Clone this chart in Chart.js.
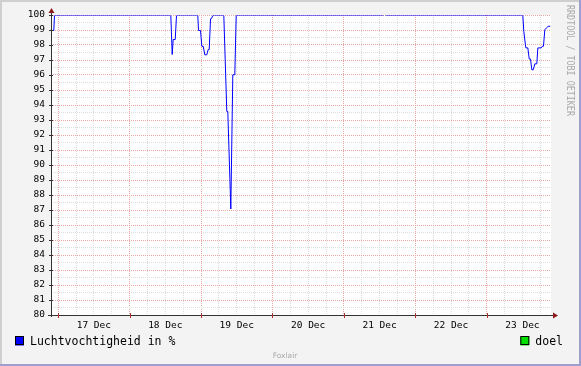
<!DOCTYPE html>
<html lang="en">
<head>
<meta charset="UTF-8" />
<title>Luchtvochtigheid</title>
<script src="https://cdn.jsdelivr.net/npm/chart.js"></script>
<style>
  html, body { margin: 0; padding: 0; background: #f3f3f3; }
  canvas { display: block; }
</style>
</head>
<body>
<canvas id="humChart" width="581" height="366"></canvas>
<script>
// time in hours since 17 Dec 00:00, humidity in %
const hours = [
  -2.4, -1.63, -1.39,
  37.69, 38.16, 38.49, 39.17, 39.6,
  46.76, 47.0, 47.67, 48.1, 48.57, 49.11, 49.78, 50.25, 50.59, 51.03, 51.36, 51.8,
  55.5, 56.5, 56.84, 57.85, 58.52, 59.19, 59.66,
  109.16, 109.5, 109.83,
  155.97, 156.3, 156.97, 157.65, 158.12, 158.55, 158.99, 159.46, 160.0, 160.67,
  161.01, 162.15, 162.49, 162.9, 163.36, 163.93, 164.5, 165.17
];
const humidity = [
  99, 99, 100,
  100, 97.4, 98.4, 98.4, 100,
  100, 99, 99, 97.95, 97.95, 97.38, 97.38, 97.73, 97.73, 99.78, 99.8, 100,
  100, 93.6, 93.6, 87.1, 96.05, 96.05, 100,
  100, null, 100,
  100, 98.93, 97.84, 97.84, 97.1, 97.1, 96.38, 96.38, 96.78, 96.78,
  97.84, 97.84, 97.95, 97.95, 99.05, 99.18, 99.28, 99.28
];
const dayLabels = ["17 Dec", "18 Dec", "19 Dec", "20 Dec", "21 Dec", "22 Dec", "23 Dec"];
const seriesNames = ["Luchtvochtigheid in %", "doel"];
const seriesColors = ["#0000ff", "#00e000"];

const GRID = "#dcdcdc";
const MGRID = "#eba5a5";
const MONO = "'DejaVu Sans Mono', monospace";

const points = hours.map((h, i) => ({ x: h, y: humidity[i] }));

const rrdLook = {
  id: "rrdLook",
  beforeDraw(chart) {
    const { ctx, chartArea: a, width, height } = chart;
    ctx.save();
    ctx.fillStyle = "#f3f3f3";
    ctx.fillRect(0, 0, width, height);
    // shaded frame
    ctx.fillStyle = "#cfcfcf";
    ctx.fillRect(0, 0, width, 2);
    ctx.fillRect(0, 0, 2, height);
    ctx.fillStyle = "#9e9ecf";
    ctx.fillRect(width - 2, 0, 2, height);
    ctx.fillRect(0, height - 2, width, 2);
    ctx.fillStyle = "#ffffff";
    ctx.fillRect(a.left, a.top, a.right - a.left, a.bottom - a.top);
    ctx.restore();
  },
  // shift the line half a pixel so 1px strokes land on whole pixels
  beforeDatasetsDraw(chart) {
    chart.ctx.save();
    chart.ctx.translate(0.5, 0.5);
  },
  afterDatasetsDraw(chart) {
    chart.ctx.restore();
  },
  afterDraw(chart) {
    const { ctx, chartArea: a, width } = chart;
    const xs = chart.scales.x, ys = chart.scales.y;
    ctx.save();
    // axes
    ctx.strokeStyle = "#333";
    ctx.lineWidth = 1;
    ctx.beginPath();
    ctx.moveTo(a.left + 0.5, a.bottom + 2);
    ctx.lineTo(a.left + 0.5, a.top - 3);
    ctx.moveTo(a.left - 3, a.bottom + 0.5);
    ctx.lineTo(a.right + 3, a.bottom + 0.5);
    ctx.stroke();
    // tick marks
    for (let v = 80; v <= 100; v++) {
      const y = Math.round(ys.getPixelForValue(v)) + 0.5;
      ctx.beginPath();
      ctx.moveTo(a.left - 2, y);
      ctx.lineTo(a.left + 2, y);
      ctx.stroke();
    }
    ctx.strokeStyle = "#b03030";
    for (let h = 0; h <= 162; h += 24) {
      const x = Math.round(xs.getPixelForValue(h)) + 0.5;
      ctx.beginPath();
      ctx.moveTo(x, a.bottom - 2);
      ctx.lineTo(x, a.bottom + 3);
      ctx.stroke();
    }
    // arrows
    ctx.fillStyle = "#8e1a1a";
    ctx.beginPath();
    ctx.moveTo(a.left + 0.5, a.top - 7);
    ctx.lineTo(a.left - 2.5, a.top - 2);
    ctx.lineTo(a.left + 3.5, a.top - 2);
    ctx.closePath();
    ctx.fill();
    ctx.beginPath();
    ctx.moveTo(a.right + 7, a.bottom + 0.5);
    ctx.lineTo(a.right + 2, a.bottom - 2.5);
    ctx.lineTo(a.right + 2, a.bottom + 3.5);
    ctx.closePath();
    ctx.fill();

    // legend
    ctx.font = "11.5px " + MONO;
    ctx.textBaseline = "alphabetic";
    chart.data.datasets.forEach((ds, i) => {
      let bx;
      if (i === 0) {
        bx = 15;
      } else {
        const tw = ctx.measureText(ds.label).width;
        bx = width - 18 - tw - 15;
      }
      ctx.fillStyle = ds.legendColor;
      ctx.fillRect(bx, 336.5, 9, 9);
      ctx.strokeStyle = "#000";
      ctx.strokeRect(bx + 0.5, 336.5, 8, 8);
      ctx.fillStyle = "#000";
      ctx.fillText(ds.label, bx + 15, 345);
    });

    // watermark
    ctx.fillStyle = "#aaaaaa";
    ctx.font = "8.4px " + MONO;
    ctx.translate(570, 5);
    ctx.rotate(Math.PI / 2);
    ctx.scale(1, 1.3);
    ctx.textBaseline = "middle";
    ctx.textAlign = "left";
    ctx.fillText("RRDTOOL / TOBI OETIKER", 0, 0);
    ctx.restore();

    ctx.save();
    ctx.fillStyle = "#aaaaaa";
    ctx.font = "7.5px 'DejaVu Sans', sans-serif";
    ctx.textAlign = "center";
    ctx.fillText("Foxlair", 285, 358);
    ctx.restore();
  }
};

new Chart(document.getElementById("humChart").getContext("2d"), {
  type: "line",
  data: {
    datasets: [
      {
        label: seriesNames[0],
        data: points,
        borderColor: seriesColors[0],
        legendColor: seriesColors[0],
        borderWidth: 1,
        pointRadius: 0,
        tension: 0,
        fill: false,
        spanGaps: false
      },
      {
        label: seriesNames[1],
        data: [],
        borderColor: seriesColors[1],
        legendColor: seriesColors[1],
        borderWidth: 1,
        pointRadius: 0
      }
    ]
  },
  options: {
    responsive: false,
    animation: false,
    devicePixelRatio: 1,
    layout: { padding: { left: 0, top: 15, right: 30, bottom: 0 } },
    plugins: {
      legend: { display: false },
      tooltip: { enabled: false }
    },
    scales: {
      x: {
        type: "linear",
        min: -2.4,
        max: 165.6,
        afterBuildTicks(scale) {
          const t = [];
          for (let h = 0; h <= 162; h += 6) t.push({ value: h });
          scale.ticks = t;
        },
        afterFit(scale) { scale.height = 51; },
        grid: {
          drawTicks: false,
          lineWidth: 1,
          color: (c) => (c.tick && c.tick.value % 24 === 0 ? MGRID : GRID)
        },
        border: { display: false, dash: [1, 1] },
        ticks: {
          autoSkip: false,
          maxRotation: 0,
          padding: 5,
          color: "#000",
          font: { family: MONO, size: 9.5 },
          callback: (v) => (v % 24 === 12 ? dayLabels[(v - 12) / 24] : "")
        }
      },
      y: {
        min: 80,
        max: 100,
        afterBuildTicks(scale) {
          const t = [];
          for (let v = 80; v <= 100; v += 0.5) t.push({ value: v });
          scale.ticks = t;
        },
        afterFit(scale) { scale.width = 51; },
        grid: {
          drawTicks: false,
          lineWidth: 1,
          color: (c) => (c.tick && Number.isInteger(c.tick.value) ? MGRID : GRID)
        },
        border: { display: false, dash: [1, 1] },
        ticks: {
          autoSkip: false,
          padding: 6,
          color: "#000",
          font: { family: MONO, size: 9.5 },
          callback: (v) => (Number.isInteger(v) ? v : "")
        }
      }
    }
  },
  plugins: [rrdLook]
});
</script>
</body>
</html>
